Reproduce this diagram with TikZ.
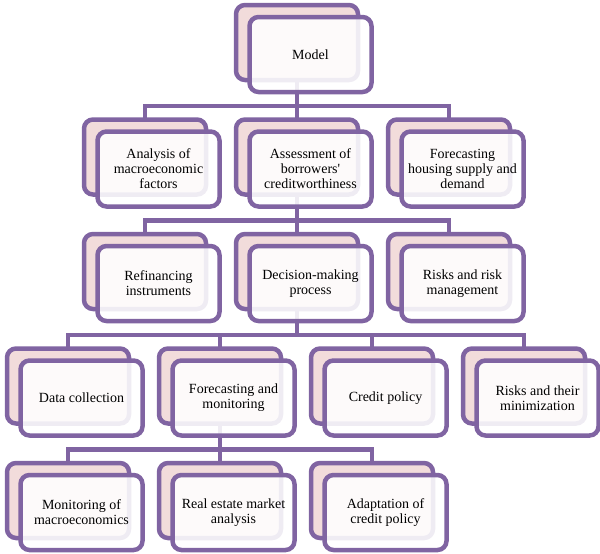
\documentclass[tikz,border=0pt]{standalone}
\usepackage{fontspec}
\setmainfont{Liberation Serif}
\usetikzlibrary{backgrounds}
\definecolor{boxline}{RGB}{128,100,162}
\definecolor{boxpink}{RGB}{242,220,219}
\tikzset{>=stealth}
\tikzset{
    backbox/.style = {draw=boxline, line width=4.5pt, rounded corners=9pt, fill=boxpink,
        minimum width=122pt, minimum height=75pt, outer sep=0pt, anchor=north west},
    frontbox/.style = {draw=boxline, line width=4.5pt, rounded corners=9pt, fill=white,
        fill opacity=0.88, text opacity=1, minimum width=122pt, minimum height=75pt,
        outer sep=0pt, anchor=north west, align=center, font=\fontsize{14}{15}\selectfont},
    link/.style = {draw=boxline, line width=4.5pt}
}
% one box of the chart: name, x, y, text
\newcommand{\chartbox}[4]{
    \node [backbox] (#1-b) at (#2,#3) {};
    \node [frontbox] (#1) at ([xshift=13.5pt,yshift=-12pt]#1-b.north west) {#4};
}

\begin{document}
\begin{tikzpicture}[x=1pt, y=-1pt]
    \useasboundingbox (0,0) rectangle (600,554);

    \chartbox{model}{236}{5}{Model}

    \chartbox{macro}{84}{119.5}{Analysis of\\macroeconomic\\factors}
    \chartbox{assess}{236}{119.5}{Assessment of\\borrowers\textquotesingle\\creditworthiness}
    \chartbox{housing}{388}{119.5}{Forecasting\\housing supply and\\demand}

    \chartbox{refin}{84}{234}{Refinancing\\instruments}
    \chartbox{decide}{236}{234}{Decision-making\\process}
    \chartbox{risk}{388}{234}{Risks and risk\\management}

    \chartbox{data}{7}{348.5}{Data collection}
    \chartbox{fcmon}{159}{348.5}{Forecasting and\\monitoring}
    \chartbox{credit}{311}{348.5}{Credit policy}
    \chartbox{minim}{463}{348.5}{Risks and their\\minimization}

    \chartbox{monmac}{7}{463}{Monitoring of\\macroeconomics}
    \chartbox{estate}{159}{463}{Real estate market\\analysis}
    \chartbox{adapt}{311}{463}{Adaptation of\\credit policy}

    \begin{pgfonlayer}{background}
    \foreach \c in {macro, assess, housing}
        \draw [link] (model-b.south) -- ++(0,26) -| (\c-b.north);
    \foreach \c in {refin, decide, risk}
        \draw [link] (assess-b.south) -- ++(0,26) -| (\c-b.north);
    \foreach \c in {data, fcmon, credit, minim}
        \draw [link] (decide-b.south) -- ++(0,26) -| (\c-b.north);
    \foreach \c in {monmac, estate, adapt}
        \draw [link] (fcmon-b.south) -- ++(0,26) -| (\c-b.north);
    \end{pgfonlayer}
\end{tikzpicture}
\end{document}
